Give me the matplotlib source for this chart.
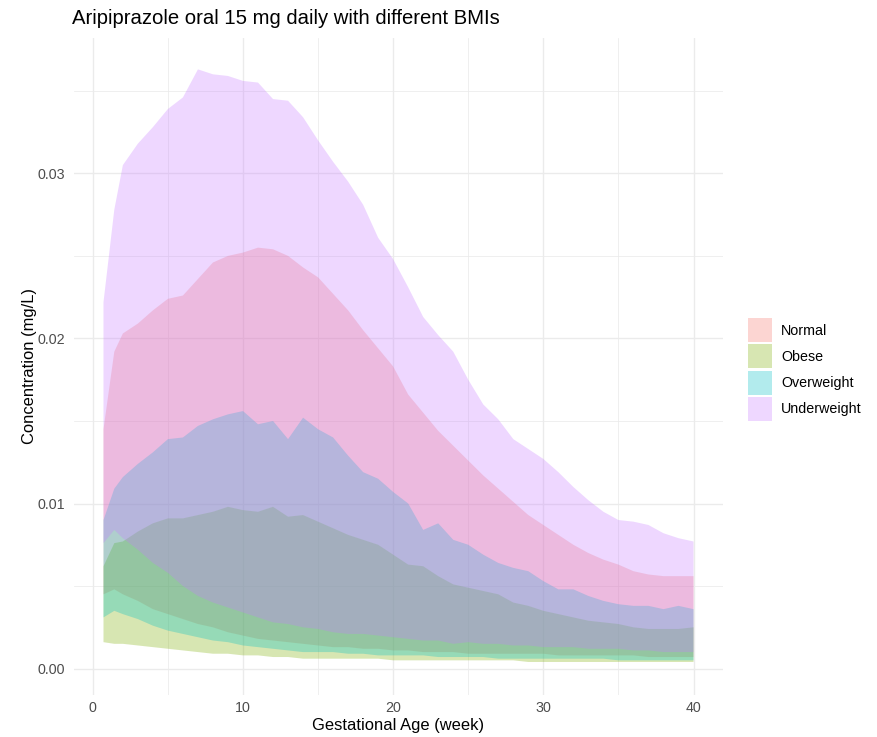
import matplotlib
matplotlib.use("Agg")
import matplotlib.pyplot as plt
from matplotlib.patches import Patch
from matplotlib.ticker import MultipleLocator, FuncFormatter

plt.rcParams['font.family'] = ['Liberation Sans', 'DejaVu Sans']

# Gestational age (weeks) at which concentrations were summarised
weeks = [0.71, 1.43, 2, 3, 4, 5, 6, 7, 8, 9, 10, 11, 12, 13, 14, 15, 16, 17, 18, 19, 20,
         21, 22, 23, 24, 25, 26, 27, 28, 29, 30, 31, 32, 33, 34, 35, 36, 37, 38, 39, 40]

groups = ["Normal", "Obese", "Overweight", "Underweight"]
colors = ["#F8766D", "#7CAE00", "#00BFC4", "#C77CFF"]

# Lower / upper concentration bounds (mg/L) per BMI group
normal_lower = [0.0045, 0.0048, 0.0045, 0.0041, 0.0036, 0.0033, 0.0030, 0.0027, 0.0025, 0.0022,
                0.0020, 0.0018, 0.0017, 0.0016, 0.0015, 0.0014, 0.0013, 0.0013, 0.0012, 0.0012,
                0.0011, 0.0011, 0.0010, 0.0010, 0.0010, 0.0009, 0.0009, 0.0009, 0.0009, 0.0009,
                0.0009, 0.0008, 0.0008, 0.0008, 0.0008, 0.0008, 0.0008, 0.0007, 0.0007, 0.0007,
                0.0007]
normal_upper = [0.0145, 0.0192, 0.0203, 0.0209, 0.0217, 0.0224, 0.0226, 0.0236, 0.0246, 0.0250,
                0.0252, 0.0255, 0.0254, 0.0250, 0.0243, 0.0237, 0.0227, 0.0217, 0.0205, 0.0194,
                0.0183, 0.0166, 0.0155, 0.0144, 0.0135, 0.0126, 0.0117, 0.0109, 0.0101, 0.0093,
                0.0087, 0.0081, 0.0075, 0.0070, 0.0066, 0.0063, 0.0059, 0.0057, 0.0056, 0.0056,
                0.0056]

obese_lower = [0.0016, 0.0015, 0.0015, 0.0014, 0.0013, 0.0012, 0.0011, 0.0010, 0.0009, 0.0009,
               0.0008, 0.0008, 0.0007, 0.0007, 0.0006, 0.0006, 0.0006, 0.0006, 0.0006, 0.0006,
               0.0005, 0.0005, 0.0005, 0.0005, 0.0005, 0.0005, 0.0005, 0.0005, 0.0005, 0.0004,
               0.0004, 0.0004, 0.0004, 0.0004, 0.0004, 0.0004, 0.0004, 0.0004, 0.0004, 0.0004,
               0.0004]
obese_upper = [0.0062, 0.0076, 0.0077, 0.0083, 0.0088, 0.0091, 0.0091, 0.0093, 0.0095, 0.0098,
               0.0096, 0.0095, 0.0098, 0.0092, 0.0093, 0.0089, 0.0085, 0.0081, 0.0078, 0.0075,
               0.0069, 0.0063, 0.0062, 0.0056, 0.0051, 0.0049, 0.0047, 0.0045, 0.0040, 0.0038,
               0.0035, 0.0033, 0.0031, 0.0029, 0.0028, 0.0027, 0.0025, 0.0024, 0.0024, 0.0024,
               0.0025]

overweight_lower = [0.0031, 0.0035, 0.0033, 0.0030, 0.0026, 0.0023, 0.0021, 0.0019, 0.0017, 0.0016,
                    0.0014, 0.0013, 0.0012, 0.0011, 0.0010, 0.0010, 0.0010, 0.0009, 0.0009, 0.0008,
                    0.0008, 0.0008, 0.0008, 0.0007, 0.0007, 0.0007, 0.0007, 0.0006, 0.0006, 0.0006,
                    0.0006, 0.0006, 0.0006, 0.0006, 0.0006, 0.0005, 0.0005, 0.0005, 0.0005, 0.0005,
                    0.0005]
overweight_upper = [0.0090, 0.0109, 0.0116, 0.0124, 0.0131, 0.0139, 0.0140, 0.0147, 0.0151, 0.0154,
                    0.0156, 0.0148, 0.0150, 0.0139, 0.0152, 0.0145, 0.0140, 0.0129, 0.0119, 0.0115,
                    0.0107, 0.0100, 0.0084, 0.0088, 0.0078, 0.0075, 0.0069, 0.0064, 0.0061, 0.0059,
                    0.0053, 0.0048, 0.0048, 0.0044, 0.0041, 0.0039, 0.0038, 0.0038, 0.0036, 0.0038,
                    0.0036]

underweight_lower = [0.0076, 0.0084, 0.0079, 0.0072, 0.0064, 0.0058, 0.0050, 0.0044, 0.0040, 0.0037,
                     0.0034, 0.0031, 0.0028, 0.0027, 0.0025, 0.0024, 0.0022, 0.0021, 0.0021, 0.0020,
                     0.0019, 0.0018, 0.0017, 0.0017, 0.0015, 0.0016, 0.0015, 0.0015, 0.0014, 0.0014,
                     0.0013, 0.0013, 0.0013, 0.0012, 0.0012, 0.0012, 0.0011, 0.0011, 0.0010, 0.0010,
                     0.0010]
underweight_upper = [0.0222, 0.0278, 0.0305, 0.0318, 0.0328, 0.0339, 0.0346, 0.0363, 0.0360, 0.0359,
                     0.0356, 0.0355, 0.0345, 0.0344, 0.0334, 0.0320, 0.0307, 0.0295, 0.0281, 0.0261,
                     0.0248, 0.0231, 0.0213, 0.0202, 0.0192, 0.0175, 0.0160, 0.0151, 0.0139, 0.0133,
                     0.0127, 0.0119, 0.0110, 0.0102, 0.0095, 0.0090, 0.0089, 0.0087, 0.0082, 0.0079,
                     0.0077]

lowers = [normal_lower, obese_lower, overweight_lower, underweight_lower]
uppers = [normal_upper, obese_upper, overweight_upper, underweight_upper]

ALPHA = 0.3
GRID = "#EBEBEB"
W, H = 877, 737

fig = plt.figure(figsize=(W / 100, H / 100), dpi=100)
ax = fig.add_axes([74 / W, 1 - 695 / H, (723 - 74) / W, (695 - 38) / H])

for lo, hi, col in zip(lowers, uppers, colors):
    ax.fill_between(weeks, lo, hi, facecolor=col, alpha=ALPHA, linewidth=0)

# 5% padding around the data range on the x axis
xr = weeks[-1] - weeks[0]
ax.set_xlim(weeks[0] - 0.05 * xr, weeks[-1] + 0.05 * xr)
ax.set_ylim(-0.0016, 0.0382)

ax.xaxis.set_major_locator(MultipleLocator(10))
ax.xaxis.set_minor_locator(MultipleLocator(5))
ax.yaxis.set_major_locator(MultipleLocator(0.01))
ax.yaxis.set_minor_locator(MultipleLocator(0.005))
ax.yaxis.set_major_formatter(FuncFormatter(lambda v, p: f"{v:.2f}"))

ax.set_axisbelow(True)
ax.grid(which="major", color=GRID, linewidth=1.0)
ax.grid(which="minor", color=GRID, linewidth=0.55)
for s in ax.spines.values():
    s.set_visible(False)
ax.tick_params(which="both", length=0)
ax.tick_params(axis="y", labelsize=10.3, labelcolor="#4D4D4D", pad=6.5)
ax.tick_params(axis="x", labelsize=10.3, labelcolor="#4D4D4D", pad=4.5)

ax.set_xlabel("Gestational Age (week)", fontsize=11.9, labelpad=2)
ax.set_ylabel("Concentration (mg/L)", fontsize=11.9, labelpad=0.5)

fig.text(72 / W, 1 - 18 / H, "Aripiprazole oral 15 mg daily with different BMIs",
         fontsize=14.6, ha="left", va="center")

handles = [Patch(facecolor=c, alpha=ALPHA, linewidth=0) for c in colors]
fig.legend(handles, groups, loc="center left",
           bbox_to_anchor=(748 / W, 1 - 369.5 / H), bbox_transform=fig.transFigure,
           frameon=False, fontsize=10.3, handlelength=1.68, handleheight=2.2,
           handletextpad=0.63, labelspacing=0.16, borderpad=0, borderaxespad=0)

fig.savefig("out.png", dpi=100)
